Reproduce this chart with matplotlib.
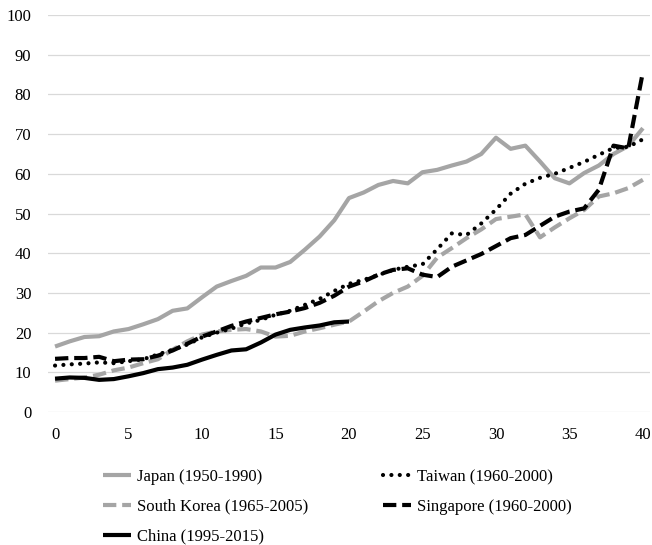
import numpy as np
import matplotlib
matplotlib.use("Agg")
import matplotlib.pyplot as plt

# years since start of each period
years = np.arange(0, 41)
china_years = np.arange(0, 21)

japan = [16.5, 17.8, 18.9, 19.1, 20.3, 20.9, 22.1, 23.4, 25.5, 26.1,
         28.9, 31.6, 33.0, 34.3, 36.4, 36.4, 37.8, 40.9, 44.2, 48.3,
         53.9, 55.3, 57.2, 58.2, 57.6, 60.4, 61.0, 62.1, 63.1, 65.0,
         69.1, 66.3, 67.1, 63.1, 58.9, 57.6, 60.2, 62.1, 65.0, 67.0, 71.5]
taiwan = [11.7, 12.0, 12.2, 12.5, 12.3, 12.8, 13.3, 14.5, 15.7, 17.0,
          18.8, 20.0, 21.0, 22.3, 23.2, 24.5, 25.5, 27.0, 28.5, 30.5,
          32.3, 33.3, 34.5, 35.8, 36.6, 37.2, 41.0, 45.0, 44.6, 47.5,
          51.0, 55.0, 57.5, 59.0, 60.0, 61.5, 63.0, 64.8, 66.5, 66.8, 68.7]
south_korea = [7.9, 8.3, 8.7, 9.4, 10.5, 11.2, 12.3, 13.3, 15.7, 17.8,
               19.5, 20.3, 20.7, 20.9, 20.3, 19.0, 19.2, 20.3, 21.1, 22.0,
               22.8, 25.3, 27.9, 30.0, 31.6, 34.3, 38.9, 41.3, 43.8, 46.0,
               48.6, 49.2, 49.8, 44.0, 46.5, 48.8, 50.9, 54.3, 55.1, 56.4, 58.5]
singapore = [13.4, 13.6, 13.6, 13.9, 12.8, 13.2, 13.3, 14.2, 15.5, 17.2,
             19.0, 20.3, 21.7, 22.8, 23.7, 24.6, 25.3, 26.2, 27.5, 29.3,
             31.6, 32.9, 34.6, 35.8, 36.2, 34.6, 34.0, 36.6, 38.2, 39.8,
             41.8, 43.8, 44.6, 46.9, 49.2, 50.5, 51.3, 56.0, 67.1, 66.4, 85.7]
china = [8.4, 8.7, 8.6, 8.1, 8.3, 9.0, 9.8, 10.8, 11.2, 11.9,
         13.2, 14.4, 15.5, 15.8, 17.5, 19.5, 20.7, 21.3, 21.8, 22.6, 22.8]

labels = ["Japan (1950-1990)", "Taiwan (1960-2000)",
          "South Korea (1965-2005)", "Singapore (1960-2000)",
          "China (1995-2015)"]
x_ticks = [0, 5, 10, 15, 20, 25, 30, 35, 40]
y_ticks = [0, 10, 20, 30, 40, 50, 60, 70, 80, 90, 100]


def main():
    font = {'family': 'Liberation Serif', 'size': 12}
    matplotlib.rc('font', **font)
    gray = "#a5a5a5"
    lw = 3

    # 1. Figure
    fig = plt.figure(figsize=(6.52, 5.45), dpi=100)
    ax = fig.add_axes([0.0736, 0.244, 0.9233, 0.7284])

    # 2. Lines
    ax.plot(years, japan, color=gray, linewidth=lw, solid_capstyle="butt",
            solid_joinstyle="round", label=labels[0])
    ax.plot(years, south_korea, color=gray, linewidth=lw, linestyle=(0, (3.2, 1.4)),
            dash_joinstyle="round", label=labels[2])
    ax.plot(years, singapore, color="black", linewidth=lw, linestyle=(0, (3.2, 1.4)),
            dash_joinstyle="round", label=labels[3])
    ax.plot(years, taiwan, color="black", linewidth=lw, linestyle=(0, (0.01, 2.0)),
            dash_capstyle="round", label=labels[1])
    ax.plot(china_years, china, color="black", linewidth=lw, solid_capstyle="butt",
            solid_joinstyle="round", label=labels[4])

    # 3. Axes, ticks, grid
    ax.set_xlim(-0.48, 40.48)
    ax.set_ylim(0, 100)
    ax.set_xticks(x_ticks)
    ax.set_yticks(y_ticks)
    ax.tick_params(axis='both', length=0)
    ax.tick_params(axis='x', pad=11)
    ax.tick_params(axis='y', pad=12)
    ax.yaxis.grid(True, color="#d9d9d9", linewidth=0.9)
    ax.set_axisbelow(True)
    for s in ax.spines.values():
        s.set_visible(False)

    # 4. Legend: matplotlib fills column by column
    handles, labs = ax.get_legend_handles_labels()
    col_order = [labels[0], labels[2], labels[4], labels[1], labels[3]]
    order = [labs.index(l) for l in col_order]
    fig.legend([handles[i] for i in order], [labs[i] for i in order],
               ncol=2, loc="upper left", bbox_to_anchor=(103 / 652, 1 - 469 / 545),
               frameon=False, handlelength=1.68, handletextpad=0.36,
               columnspacing=4.46, labelspacing=0.83,
               borderpad=0, borderaxespad=0, fontsize=12)

    # 5. Save
    fig.savefig("out.png", dpi=100)


if __name__ == "__main__":
    main()
